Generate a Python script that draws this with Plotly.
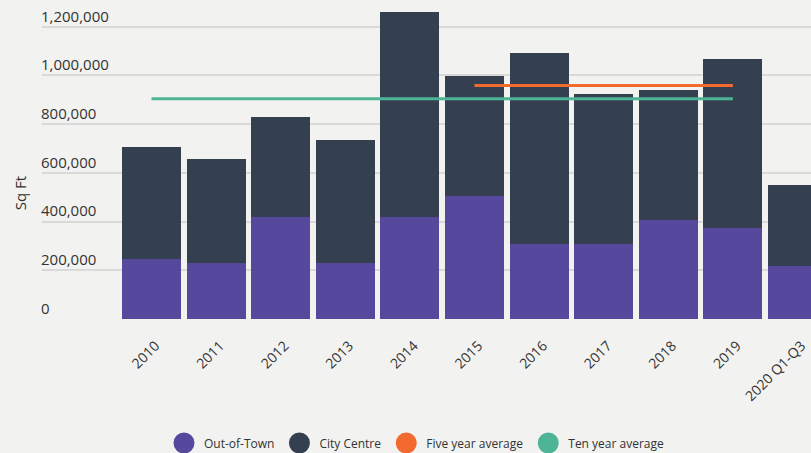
import plotly.graph_objects as go

years = ["2010", "2011", "2012", "2013", "2014", "2015", "2016", "2017", "2018", "2019", "2020 Q1-Q3"]
out_of_town = [245000, 229000, 418000, 229000, 418000, 504000, 307000, 307000, 406000, 373000, 217000]
city_centre = [460000, 427000, 411000, 505000, 843000, 494000, 785000, 617000, 534000, 694000, 333000]
five_year_years = ["2015", "2019"]
five_year_avg = [959000, 959000]
ten_year_years = ["2010", "2019"]
ten_year_avg = [904000, 904000]
y_ticks = [0, 200000, 400000, 600000, 800000, 1000000, 1200000]

C_OUT = "#56499D"
C_CITY = "#343F50"
C_FIVE = "#F26A2E"
C_TEN = "#4DB596"
BG = "#F2F2F0"
FONT = "Open Sans"
TXT = "#333333"

fig = go.Figure()
fig.add_trace(go.Bar(x=years, y=out_of_town, name="Out-of-Town", marker_color=C_OUT,
                     marker_line_width=0, showlegend=False))
fig.add_trace(go.Bar(x=years, y=city_centre, name="City Centre", marker_color=C_CITY,
                     marker_line_width=0, showlegend=False))
fig.add_trace(go.Scatter(x=five_year_years, y=five_year_avg, mode="lines", name="Five year average",
                         line=dict(color=C_FIVE, width=3), showlegend=False))
fig.add_trace(go.Scatter(x=ten_year_years, y=ten_year_avg, mode="lines", name="Ten year average",
                         line=dict(color=C_TEN, width=3), showlegend=False))

# legend entries with circular symbols
for name, col in [("Out-of-Town", C_OUT), ("City Centre", C_CITY),
                  ("Five year average", C_FIVE), ("Ten year average", C_TEN)]:
    fig.add_trace(go.Scatter(x=[None], y=[None], mode="markers", name=name,
                             marker=dict(color=col, size=16, symbol="circle",
                                         line=dict(color=col, width=5))))

W, H = 811, 453
left, bottom = 42, 134.3
plot_h = H - bottom
fig.update_layout(
    width=W, height=H,
    margin=dict(l=left, r=0, t=0, b=bottom),
    paper_bgcolor=BG, plot_bgcolor=BG,
    barmode="stack", bargap=0.087,
    font=dict(family=FONT, size=13, color=TXT),
    showlegend=True,
    legend=dict(orientation="h", traceorder="normal", x=(417 - left) / (W - left), xanchor="center",
                yref="container", y=1 - 443 / H, yanchor="middle",
                font=dict(size=12, color=TXT), bgcolor="rgba(0,0,0,0)"),
    xaxis=dict(type="category", range=[-1.695, 10.209], tickangle=-45,
               showgrid=False, zeroline=False, showline=False, ticks="",
               ticklabelstandoff=15, ticklabelshift=4,
               tickfont=dict(size=14, color=TXT)),
    yaxis=dict(range=[0, 1310000], tickvals=y_ticks, tickformat=",d",
               ticklabelposition="inside top", ticklabelstandoff=-4,
               showgrid=True, gridcolor="#D9D9D9",
               gridwidth=2, zeroline=False, showline=False, ticks="",
               tickfont=dict(size=15, color=TXT)),
    annotations=[dict(text="Sq Ft", x=(20 - left) / (W - left), y=(318.7 - 193) / plot_h,
                      xref="paper", yref="paper", showarrow=False, textangle=-90,
                      font=dict(size=15, color=TXT), xanchor="center", yanchor="middle")],
)

fig.write_html("out.html", config={"displayModeBar": False},
               post_script="document.body.style.margin='0';document.body.style.background='%s';" % BG)
